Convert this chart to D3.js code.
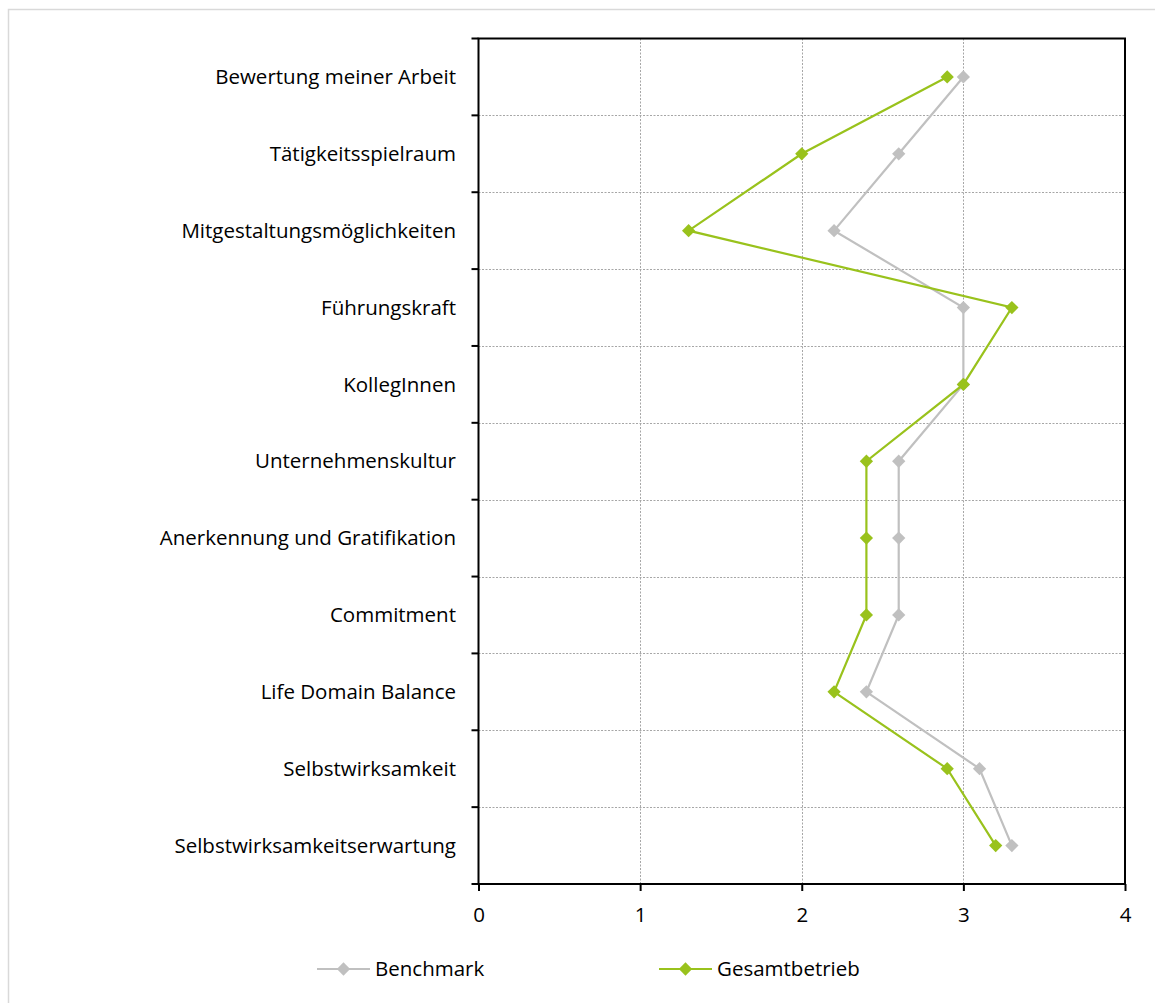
<!DOCTYPE html>
<html><head><meta charset="utf-8">
<script src="https://cdn.jsdelivr.net/npm/d3@7"></script>
<style>body{margin:0;background:#fff}svg{display:block}text{font-family:"Open Sans",sans-serif;fill:#000}</style>
</head><body><svg id="c" width="1155" height="1003"></svg>
<script>
const categories = ["Bewertung meiner Arbeit","Tätigkeitsspielraum","Mitgestaltungsmöglichkeiten","Führungskraft","KollegInnen","Unternehmenskultur","Anerkennung und Gratifikation","Commitment","Life Domain Balance","Selbstwirksamkeit","Selbstwirksamkeitserwartung"];
const benchmark = [3.0,2.6,2.2,3.0,3.0,2.6,2.6,2.6,2.4,3.1,3.3];
const gesamtbetrieb = [2.9,2.0,1.3,3.3,3.0,2.4,2.4,2.4,2.2,2.9,3.2];
const xTicks = [0,1,2,3,4];
const seriesNames = ["Benchmark","Gesamtbetrieb"];
const seriesColors = ["#c0c0c0","#99c21c"];

const FS = "20.5px";
const svg = d3.select("#c");
svg.append("rect").attr("x",8.5).attr("y",9.5).attr("width",1200).attr("height",1100).attr("fill","none").attr("stroke","#d9d9d9").attr("stroke-width",1.5);

const L=478.5, R=1125, T=38.5, B=884;
const x = d3.scaleLinear().domain([0,4]).range([L,R]);
const y = d3.scaleBand().domain(categories).range([T,B]).padding(0);
const yc = c => y(c)+y.bandwidth()/2;

const g = svg.append("g");
g.selectAll(".vg").data(xTicks.slice(1,-1)).enter().append("line")
 .attr("x1",d=>Math.round(x(d))+0.5).attr("x2",d=>Math.round(x(d))+0.5).attr("y1",T).attr("y2",B)
 .attr("stroke","#a6a6a6").attr("stroke-width",1).attr("stroke-dasharray","2,1.5");
g.selectAll(".hg").data(categories.slice(1)).enter().append("line")
 .attr("x1",L).attr("x2",R).attr("y1",d=>Math.round(y(d))+0.5).attr("y2",d=>Math.round(y(d))+0.5)
 .attr("stroke","#a6a6a6").attr("stroke-width",1).attr("stroke-dasharray","2,1.5");

g.append("rect").attr("x",L).attr("y",T).attr("width",R-L).attr("height",B-T).attr("fill","none").attr("stroke","#000").attr("stroke-width",2);

const xa = svg.append("g").attr("transform",`translate(0,${B})`)
 .call(d3.axisBottom(x).tickValues(xTicks).tickFormat(d3.format("d")).tickSize(7).tickPadding(16));
xa.attr("font-size",null).attr("font-family",null);
xa.select(".domain").remove();
xa.selectAll(".tick line").attr("stroke","#000").attr("stroke-width",2);
xa.selectAll(".tick text").attr("font-size",FS).style("font-size",FS).attr("fill","#000");

svg.selectAll(".yt").data(categories.concat(["__end"])).enter().append("line")
 .attr("x1",L-7).attr("x2",L).attr("y1",(d,i)=>T+i*y.bandwidth()).attr("y2",(d,i)=>T+i*y.bandwidth())
 .attr("stroke","#000").attr("stroke-width",2);
svg.selectAll(".yl").data(categories).enter().append("text")
 .attr("x",456).attr("y",d=>yc(d)).attr("dy","0.35em").attr("text-anchor","end")
 .style("font-size",FS).text(d=>d);

const diamond = d3.symbol().type(d3.symbolSquare).size(88)();
const series=[benchmark,gesamtbetrieb];
series.forEach((vals,si)=>{
  const pts = categories.map((c,i)=>[x(vals[i]),yc(c)]);
  svg.append("path").attr("d",d3.line()(pts)).attr("fill","none").attr("stroke",seriesColors[si]).attr("stroke-width",2.2);
  svg.selectAll(null).data(pts).enter().append("path")
   .attr("d",diamond).attr("transform",d=>`translate(${d[0]},${d[1]}) rotate(45)`)
   .attr("fill",seriesColors[si]);
});

const legX=[317,659];
seriesNames.forEach((n,i)=>{
  const lg=svg.append("g").attr("transform",`translate(${legX[i]},969)`);
  lg.append("line").attr("x1",0).attr("x2",53).attr("y1",0).attr("y2",0).attr("stroke",seriesColors[i]).attr("stroke-width",2.2);
  lg.append("path").attr("d",diamond).attr("transform","translate(26.5,0) rotate(45)").attr("fill",seriesColors[i]);
  lg.append("text").attr("x",58).attr("y",0).attr("dy","0.35em").style("font-size",FS).text(n);
});
</script></body></html>
